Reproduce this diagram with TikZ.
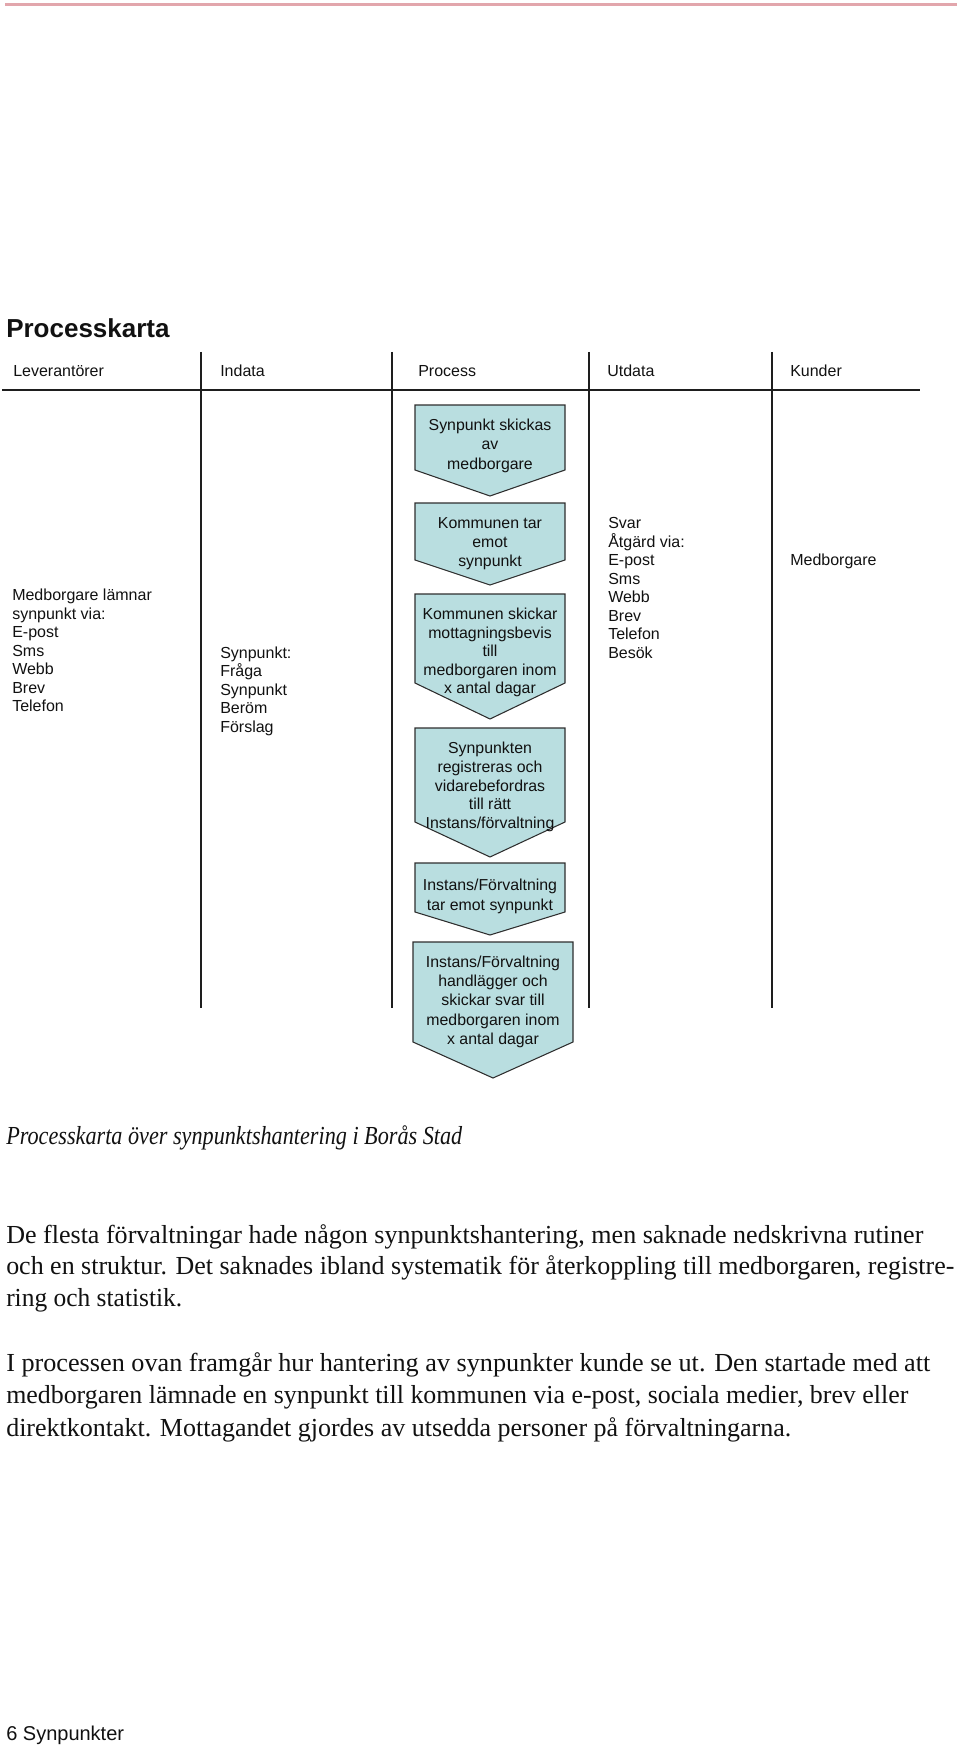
\documentclass[tikz,border=0pt]{standalone}
\usepackage{fontspec}
\setmainfont{Liberation Serif}
\setsansfont{Liberation Sans}
\usepackage{graphicx}
\newlength\pxu \setlength\pxu{0.75pt}
\definecolor{pinkline}{HTML}{E2A6AC}
\definecolor{chevfill}{HTML}{B9DEE0}
\definecolor{chevline}{HTML}{2E2E2E}
\definecolor{rulecol}{HTML}{1E1E1E}
\definecolor{txt}{HTML}{111111}
\newcommand\chevshape[5]{%
  \draw[chevron] (#1,#3) -- (#2,#3) -- (#2,#4) -- ({(#1+#2)/2},#5) -- (#1,#4) -- cycle;}
\begin{document}
\begin{tikzpicture}[x=0.75pt,y=-0.75pt,
  every node/.style={inner sep=0pt, text=txt},
  lst/.style={font=\sffamily\fontsize{12}{14}\selectfont, anchor=base west},
  chevtxt/.style={font=\sffamily\fontsize{11.9}{14}\selectfont, anchor=base},
  body/.style={font=\rmfamily\fontsize{19.5}{23}\selectfont, anchor=base west},
  chevron/.style={draw=chevline, fill=chevfill, line width=0.8pt, line join=miter},
  rule/.style={draw=rulecol, line width=1.4pt}]
\useasboundingbox (0,0) rectangle (960,1747);
% top pink rule
\draw[draw=pinkline, line width=1.6pt] (5,4.5) -- (957,4.5);
% title
\node[font=\sffamily\bfseries\fontsize{19.5}{22}\selectfont, anchor=base west] (title) at (6,338) {Processkarta};
% grid
\draw[rule] (2,390) -- (920,390);
\foreach \xx/\nm in {201/v1, 392/v2, 589/v3, 772/v4}
  \draw[rule] (\xx,352) coordinate (\nm top) -- (\xx,1008) coordinate (\nm bot);
% headers
\node[lst] (hLev) at (13,377) {Leverantörer};
\node[lst] (hInd) at (220,377) {Indata};
\node[lst] (hPro) at (418,377) {Process};
\node[lst] (hUtd) at (607,377) {Utdata};
\node[lst] (hKun) at (790,377) {Kunder};
% Leverantörer
\foreach \t [count=\i from 0] in {Medborgare lämnar, synpunkt via:, E-post, Sms, Webb, Brev, Telefon}
  \node[lst] (lev\i) at (12,600.5+18.5*\i) {\t};
% Indata
\foreach \t [count=\i from 0] in {Synpunkt:, Fråga, Synpunkt, Beröm, Förslag}
  \node[lst] (ind\i) at (220,658.5+18.4*\i) {\t};
% Utdata
\foreach \t [count=\i from 0] in {Svar, Åtgärd via:, E-post, Sms, Webb, Brev, Telefon, Besök}
  \node[lst] (utd\i) at (608,528.5+18.57*\i) {\t};
% Kunder
\node[lst] (kun0) at (790,565.5) {Medborgare};
% chevrons
\chevshape{415}{565}{405}{470}{496}
\chevshape{415}{565}{503}{560}{585}
\chevshape{415}{565}{594}{683}{719}
\chevshape{415}{565}{728}{822}{857}
\chevshape{415}{565}{863}{912}{935}
\chevshape{413}{573}{942}{1042}{1078}
\foreach \t [count=\i from 0] in {Synpunkt skickas, av, medborgare}
  \node[chevtxt] (ca\i) at (490,430.5+19.3*\i) {\t};
\foreach \t [count=\i from 0] in {Kommunen tar, emot, synpunkt}
  \node[chevtxt] (cb\i) at (490,528.5+19*\i) {\t};
\foreach \t [count=\i from 0] in {Kommunen skickar, mottagningsbevis, till, medborgaren inom, x antal dagar}
  \node[chevtxt] (cc\i) at (490,619.5+18.6*\i) {\t};
\foreach \t [count=\i from 0] in {Synpunkten, registreras och, vidarebefordras, till rätt, Instans/förvaltning}
  \node[chevtxt] (cd\i) at (490,753.5+18.8*\i) {\t};
\foreach \t [count=\i from 0] in {Instans/Förvaltning, tar emot synpunkt}
  \node[chevtxt] (ce\i) at (490,890.5+19.5*\i) {\t};
\foreach \t [count=\i from 0] in {Instans/Förvaltning, handlägger och, skickar svar till, medborgaren inom, x antal dagar}
  \node[chevtxt] (cf\i) at (493,967.5+19.2*\i) {\t};
% caption and body
\node[body, font=\rmfamily\itshape\fontsize{19.5}{23}\selectfont] (cap) at (6,1144) {\resizebox{456\pxu}{\height}{Processkarta över synpunktshantering i Borås Stad}};
\node[body] (p1a) at (6,1243) {\resizebox{917\pxu}{\height}{De flesta förvaltningar hade någon synpunktshantering, men saknade nedskrivna rutiner}};
\node[body] (p1b) at (6,1274) {\resizebox{948\pxu}{\height}{och en struktur. Det saknades ibland systematik för återkoppling till medborgaren, registre-}};
\node[body] (p1c) at (6,1306) {\resizebox{176\pxu}{\height}{ring och statistik.}};
\node[body] (p2a) at (6,1371) {\resizebox{924\pxu}{\height}{I processen ovan framgår hur hantering av synpunkter kunde se ut. Den startade med att}};
\node[body] (p2b) at (6,1403) {\resizebox{902\pxu}{\height}{medborgaren lämnade en synpunkt till kommunen via e-post, sociala medier, brev eller}};
\node[body] (p2c) at (6,1436) {\resizebox{785\pxu}{\height}{direktkontakt. Mottagandet gjordes av utsedda personer på förvaltningarna.}};
% footer
\node[lst, font=\sffamily\fontsize{15}{18}\selectfont] (foot) at (6,1740) {6 Synpunkter};
\end{tikzpicture}
\end{document}
